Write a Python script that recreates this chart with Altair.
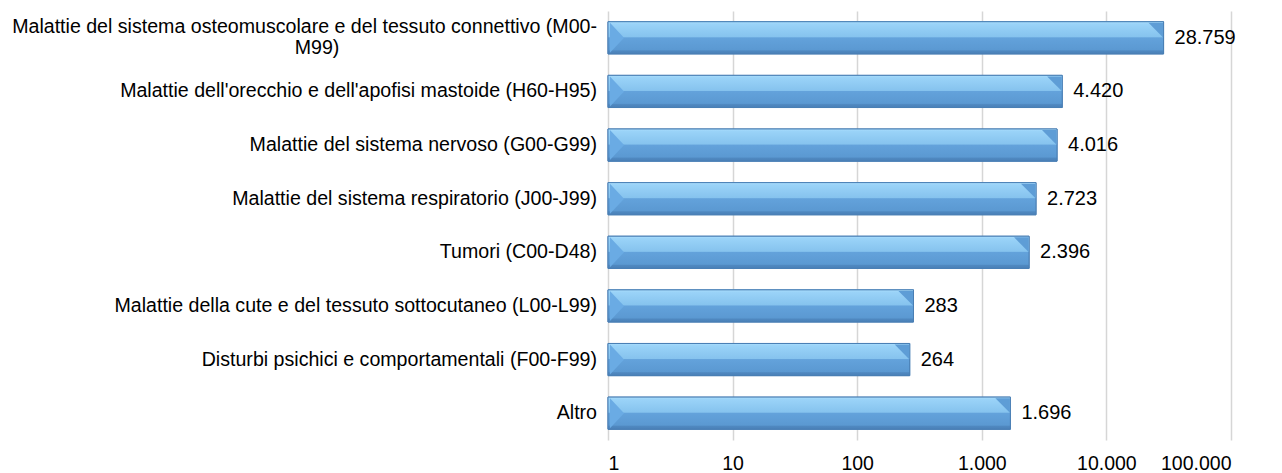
import altair as alt
import pandas as pd

categories = [
    "Malattie del sistema osteomuscolare e del tessuto connettivo (M00-M99)",
    "Malattie dell'orecchio e dell'apofisi mastoide (H60-H95)",
    "Malattie del sistema nervoso (G00-G99)",
    "Malattie del sistema respiratorio (J00-J99)",
    "Tumori (C00-D48)",
    "Malattie della cute e del tessuto sottocutaneo (L00-L99)",
    "Disturbi psichici e comportamentali (F00-F99)",
    "Altro",
]
values = [28759, 4420, 4016, 2723, 2396, 283, 264, 1696]
label_line1 = [
    "Malattie del sistema osteomuscolare e del tessuto connettivo (M00-",
    "Malattie dell'orecchio e dell'apofisi mastoide (H60-H95)",
    "Malattie del sistema nervoso (G00-G99)",
    "Malattie del sistema respiratorio (J00-J99)",
    "Tumori (C00-D48)",
    "Malattie della cute e del tessuto sottocutaneo (L00-L99)",
    "Disturbi psichici e comportamentali (F00-F99)",
    "Altro",
]
label_line2 = ["M99)", "", "", "", "", "", "", ""]
tick_values = [1, 10, 100, 1000, 10000, 100000]

FONT = "Liberation Sans"

df = pd.DataFrame({
    "cat": categories,
    "value": values,
    "line1": label_line1,
    "line2": label_line2,
})
df["vlabel"] = [f"{v:,}".replace(",", ".") for v in values]

y_enc = alt.Y("cat:N", sort=categories, axis=None,
              scale=alt.Scale(paddingInner=0.4, paddingOuter=0.2))
x_scale = alt.Scale(type="log", domain=[1, 100000])

base = alt.Chart(df)

grad = alt.Gradient(
    gradient="linear", x1=0, x2=0, y1=0, y2=1,
    stops=[
        alt.GradientStop(offset=0.0, color="#acdefc"),
        alt.GradientStop(offset=0.07, color="#9ad3f8"),
        alt.GradientStop(offset=0.47, color="#86c3ee"),
        alt.GradientStop(offset=0.5, color="#63a2db"),
        alt.GradientStop(offset=0.87, color="#5b99d2"),
        alt.GradientStop(offset=0.91, color="#4f88c0"),
        alt.GradientStop(offset=1.0, color="#4a80b7"),
    ],
)

x_enc_axis = alt.X("value:Q", scale=x_scale,
                   axis=alt.Axis(values=tick_values, title=None, domain=False, ticks=False,
                                 grid=True, gridColor="#d6d6d6", gridWidth=1.5,
                                 labelFont=FONT, labelFontSize=19.5, labelColor="#000000",
                                 labelPadding=14,
                                 labelExpr="replace(format(datum.value, ','), ',', '.')"))

bars_plain = base.mark_bar(fill="#5b9bd5", stroke="#4a7fb4", strokeWidth=1).encode(
    x=x_enc_axis,
    x2=alt.datum(1),
    y=y_enc,
)

bars = base.mark_bar(fill=grad, stroke="#4a7fb4", strokeWidth=1).encode(
    x=alt.X("value:Q", scale=x_scale),
    x2=alt.datum(1),
    y=y_enc,
)

left_face = base.mark_point(
    shape="M 0.06 -0.94 L 0.94 0 L 0.06 0.94 Z", size=1024, filled=True,
    color="#6aabe4", opacity=1, strokeWidth=0,
).encode(x=alt.value(1), y=y_enc)

right_face = base.mark_point(
    shape="M -0.94 -0.94 L -0.03 -0.94 L -0.03 -0.02 Z", size=1024, filled=True,
    color="#5e9dd6", opacity=1, strokeWidth=0,
).encode(x=alt.X("value:Q", scale=x_scale), y=y_enc)

value_labels = base.mark_text(
    align="left", baseline="middle", dx=11, font=FONT, fontSize=20, color="#000000"
).encode(x=alt.X("value:Q", scale=x_scale), y=y_enc, text="vlabel:N")

cat_labels_single = base.transform_filter("datum.line2 == ''").mark_text(
    align="right", baseline="middle", font=FONT, fontSize=19.6, color="#000000"
).encode(x=alt.value(-11), y=y_enc, text="line1:N")

cat_labels_first = base.transform_filter("datum.line2 != ''").mark_text(
    align="right", baseline="middle", font=FONT, fontSize=19.6, color="#000000",
    dy=-10.5,
).encode(x=alt.value(-11), y=y_enc, text="line1:N")

cat_labels_second = base.transform_filter("datum.line2 != ''").mark_text(
    align="center", baseline="middle", font=FONT, fontSize=19.6, color="#000000",
    dy=10,
).encode(x=alt.value(-291), y=y_enc, text="line2:N")

chart = alt.layer(bars_plain, bars, left_face, right_face, value_labels,
                  cat_labels_single, cat_labels_first, cat_labels_second).properties(
    width=623, height=429,
    autosize=alt.AutoSizeParams(type="none"),
    padding={"left": 600, "top": 3, "right": 10, "bottom": 32},
).configure_view(stroke=None)

chart.save("out.html", embed_options={"renderer": "svg", "actions": False})
